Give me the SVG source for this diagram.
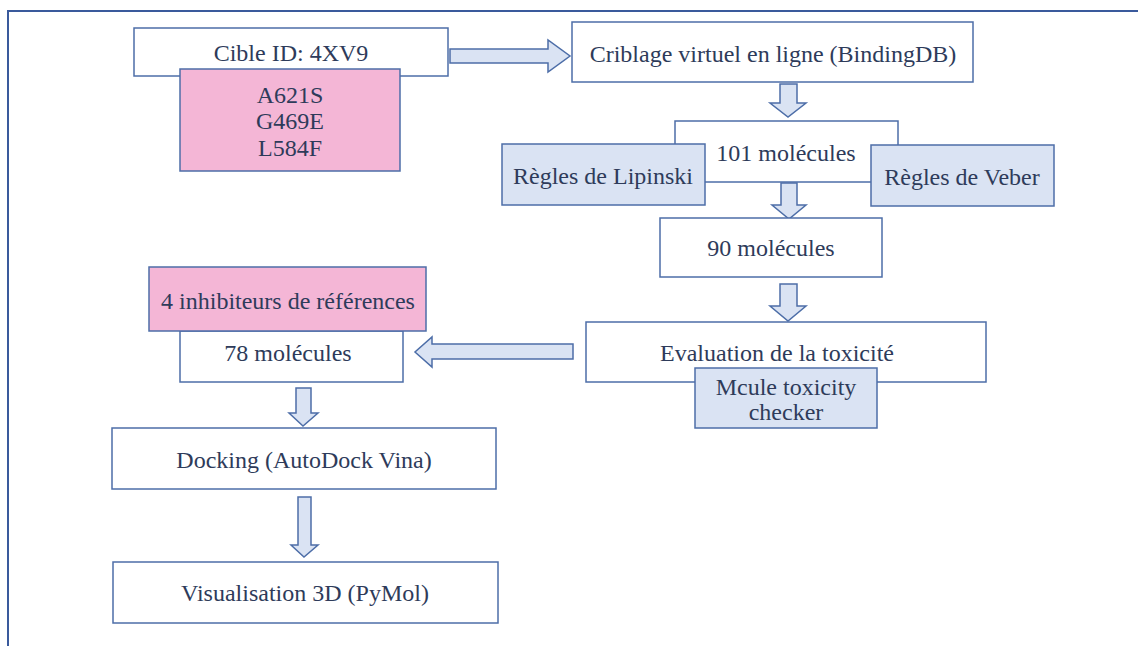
<svg xmlns="http://www.w3.org/2000/svg" width="1138" height="646" viewBox="0 0 1138 646">
<style>
.box{fill:#fff;stroke:#4d6ea8;stroke-width:1.5}
.pink{fill:#f4b6d6;stroke:#4d6ea8;stroke-width:1.5}
.blue{fill:#dae3f3;stroke:#4d6ea8;stroke-width:1.5}
.arr{fill:#dae3f3;stroke:#4d6ea8;stroke-width:1.5;stroke-linejoin:miter}
text{font-family:"Liberation Serif","Times New Roman",serif;font-size:24px;fill:#2e3b5a;text-anchor:middle}
</style>
<rect x="0" y="0" width="1138" height="646" fill="#fff"/>
<path d="M8 646 V11 H1138" fill="none" stroke="#3a5a9c" stroke-width="2"/>
<g id="connectors">
<path class="arr" d="M450 49 H548 V40 L570 56 L548 72 V63 H450 Z"/>
<path class="arr" d="M780 84 H797 V103 H806 L788 117 L770 103 H780 Z"/>
<path class="arr" d="M781 183 H797 V205 H806 L789 219 L772 205 H781 Z"/>
<path class="arr" d="M780 284 H797 V306 H806 L788 321 L770 306 H780 Z"/>
<path class="arr" d="M573 344 V359 H432 V367 L415 352 L432 337 V344 Z"/>
<path class="arr" d="M296 388 H311 V413 H318 L303 426 L289 413 H296 Z"/>
<path class="arr" d="M298 497 H311 V545 H318 L304 557 L291 545 H298 Z"/>
</g>
<g id="cible"><rect class="box" x="134" y="28" width="314" height="48"/><text x="291" y="61">Cible ID: 4XV9</text></g>
<g id="mutations"><rect class="pink" x="180" y="69" width="220" height="102"/><text x="290" y="103">A621S</text><text x="290" y="129">G469E</text><text x="290" y="156">L584F</text></g>
<g id="criblage"><rect class="box" x="572" y="22" width="401" height="60"/><text x="773" y="62">Criblage virtuel en ligne (BindingDB)</text></g>
<g id="m101"><rect class="box" x="675" y="121" width="223" height="61"/><text x="786" y="161">101 molécules</text></g>
<g id="lipinski"><rect class="blue" x="502" y="144" width="203" height="61"/><text x="603" y="184">Règles de Lipinski</text></g>
<g id="veber"><rect class="blue" x="871" y="145" width="183" height="61"/><text x="962" y="185">Règles de Veber</text></g>
<g id="m90"><rect class="box" x="660" y="218" width="222" height="59"/><text x="771" y="256">90 molécules</text></g>
<g id="evaluation"><rect class="box" x="586" y="322" width="400" height="60"/><text x="777" y="361">Evaluation de la toxicité</text></g>
<g id="mcule"><rect class="blue" x="695" y="368" width="182" height="60"/><text x="786" y="395">Mcule toxicity</text><text x="786" y="420">checker</text></g>
<g id="m78"><rect class="box" x="180" y="331" width="223" height="51"/><text x="288" y="361">78 molécules</text></g>
<g id="inhibiteurs"><rect class="pink" x="149" y="267" width="277" height="64"/><text x="288" y="309">4 inhibiteurs de références</text></g>
<g id="docking"><rect class="box" x="112" y="428" width="384" height="61"/><text x="304" y="468">Docking (AutoDock Vina)</text></g>
<g id="visualisation"><rect class="box" x="113" y="562" width="385" height="61"/><text x="305" y="601">Visualisation 3D (PyMol)</text></g>
</svg>
